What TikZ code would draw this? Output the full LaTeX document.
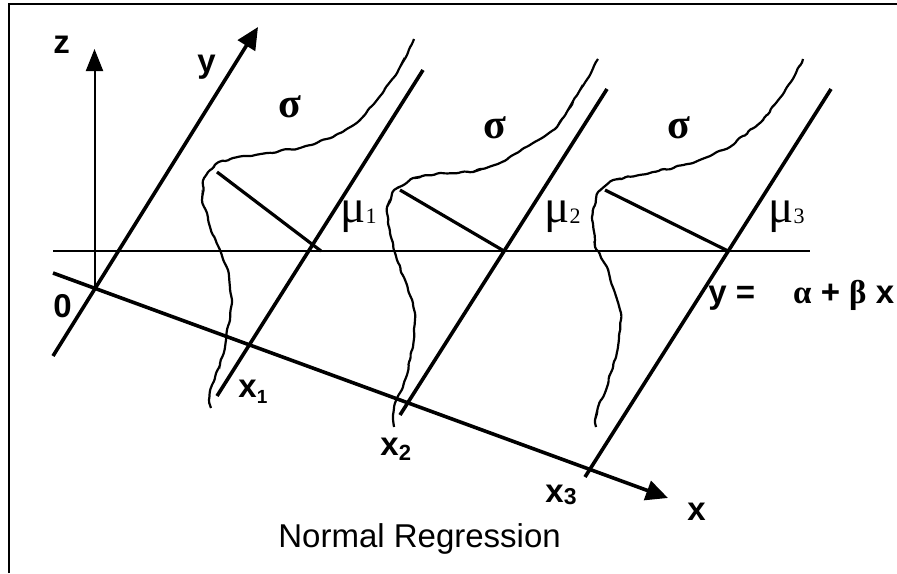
\documentclass[tikz,border=0pt]{standalone}
\usepackage{fontspec}
\setmainfont{Liberation Sans}
\newfontfamily\symfont{Liberation Serif}
\usetikzlibrary{arrows.meta,decorations.pathmorphing}

\begin{document}
\begin{tikzpicture}[
  x=0.5pt, y=-0.5pt,
  every node/.style={inner sep=0pt, anchor=base west},
  lbl/.style={font=\fontsize{16.5}{18}\selectfont\bfseries},
  greek/.style={font=\fontsize{21}{24}\selectfont\symfont\bfseries},
  mean/.style={font=\fontsize{23.5}{24}\selectfont\symfont},
  axis/.style={line width=1.8pt},
  thin/.style={line width=1pt},
  radius/.style={line width=1.6pt},
  wiggle/.style={line width=1.1pt, rounded corners=0.8pt, decorate,
                 decoration={random steps, segment length=2.5pt, amplitude=0.55pt}},
  >={Triangle[length=11pt, width=10pt]}
]
\pgfmathsetseed{7}
\useasboundingbox (0,0) rectangle (897,573);

% frame (only top and left edges fall in the picture)
\draw[thin] (9,573) -- (9,3.5) -- (897,3.5);

% origin and axes
\coordinate (o) at (95,288);
\coordinate (zt) at (94.5,49);
\coordinate (yb) at (53,356);
\coordinate (yt) at (258,27);
\coordinate (xb) at (53,273);
\coordinate (xt) at (668,498);
\coordinate (hl) at (53,251);
\coordinate (hr) at (810,251);

\draw[thin, -{Triangle[length=11pt, width=8.5pt]}] (o -| zt) -- (zt);
\draw[axis, ->] (yb) -- (yt);
\draw[axis, ->] (xb) -- (xt);
\draw[thin] (hl) -- (hr);

% regression lines at x1, x2, x3
\coordinate (b1) at (217,396); \coordinate (t1) at (423,70);
\coordinate (b2) at (400,415); \coordinate (t2) at (607,89);
\coordinate (b3) at (585,477); \coordinate (t3) at (831,89);
\foreach \i in {1,2,3}
  \draw[axis] (b\i) -- (t\i);

% sigma radii
\coordinate (s1) at (217,172); \coordinate (m1) at (321,251);
\coordinate (s2) at (400,190); \coordinate (m2) at (504,251);
\coordinate (s3) at (605,190); \coordinate (m3) at (728,251);
\foreach \i in {1,2,3}
  \draw[radius] (s\i) -- (m\i);

% normal curves
\draw[wiggle] plot coordinates {
  (414,39) (407,55) (400,67) (390,82) (377,100) (360,120) (333,137)
  (300,148) (267,153) (233,158) (217,163) (204,178) (202,200) (210,227)
  (220,250) (228,270) (232,300) (230,320) (226,340) (220,365) (212,385)
  (209,400) (211,408)};
\draw[wiggle] plot coordinates {
  (598,59) (590,75) (580,90) (568,110) (557,127) (533,143) (500,163)
  (473,172) (440,173) (413,178) (394,190) (387,207) (390,233) (397,260)
  (407,285) (415,313) (413,347) (403,387) (395,403) (393,415) (394,427)};
\draw[wiggle] plot coordinates {
  (803,59) (795,75) (787,87) (776,103) (763,120) (730,147) (693,163)
  (653,172) (613,180) (598,192) (592,217) (595,247) (607,267) (615,293)
  (621,313) (618,347) (607,387) (598,407) (595,420) (596,427)};

% labels
\node[lbl] (zlab) at (53,53) {z};
\node[lbl] (ylab) at (197,72) {y};
\node[lbl] (olab) at (53,317) {0};
\node[lbl] (xlab) at (687,520) {x};
\node[lbl] (x1lab) at (238,397) {x\raisebox{-3pt}{\fontsize{9.5}{9}\selectfont 1}};
\node[lbl] (x2lab) at (380,455) {x\raisebox{-2.5pt}{\fontsize{11}{10}\selectfont 2}};
\node[lbl] (x3lab) at (545,502) {x\raisebox{-1pt}{\fontsize{11.5}{10}\selectfont 3}};

\node[greek] (sig1) at (278,117) {σ};
\node[greek] (sig2) at (483,138) {σ};
\node[greek] (sig3) at (667,138) {σ};

\node[mean] (mu1) at (340,222) {μ\raisebox{-0.5pt}{\fontsize{11}{10}\selectfont 1}};
\node[mean] (mu2) at (544,222) {μ\raisebox{-0.5pt}{\fontsize{11}{10}\selectfont 2}};
\node[mean] (mu3) at (768,222) {μ\raisebox{-0.5pt}{\fontsize{11}{10}\selectfont 3}};

\node[lbl] (eq) at (708,303)
  {y =\hspace{19pt}{\symfont α} + {\symfont β} x};

\node[font=\fontsize{16.5}{19}\selectfont] (title) at (278,547) {Normal Regression};

\end{tikzpicture}
\end{document}
